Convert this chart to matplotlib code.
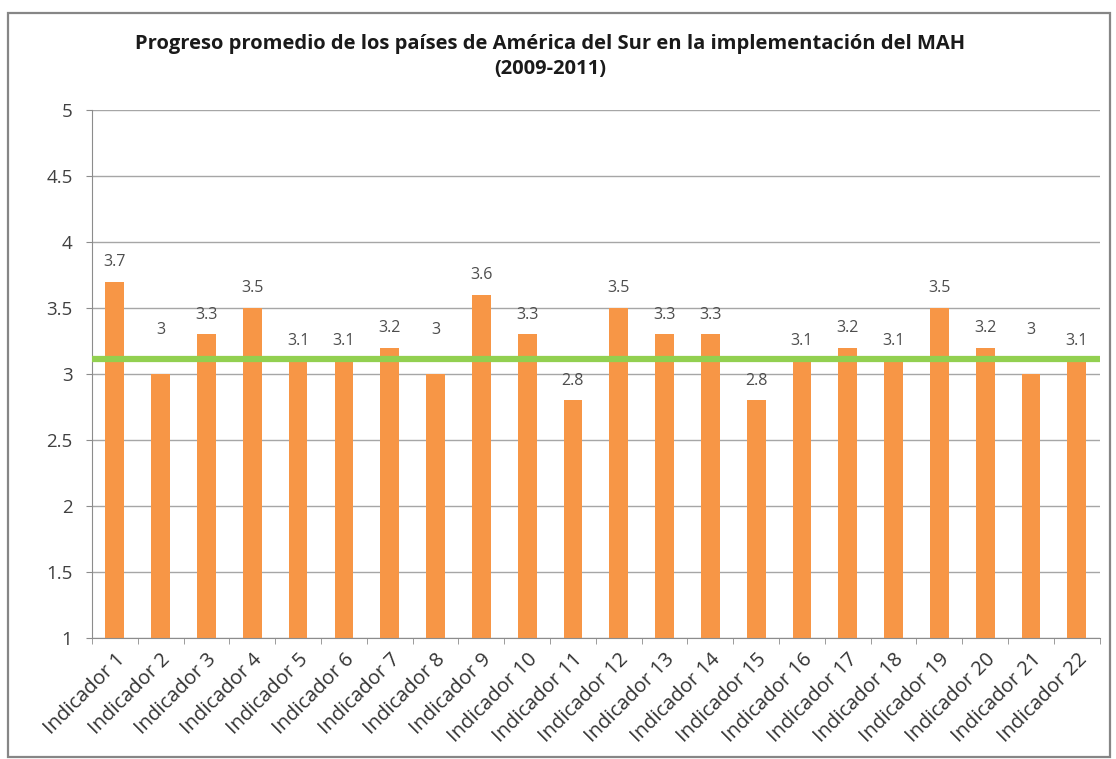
import matplotlib

matplotlib.use("Agg")
import matplotlib.pyplot as plt
import numpy as np
from matplotlib.patches import Rectangle

categories = [f"Indicador {i}" for i in range(1, 23)]
values = [3.7, 3.0, 3.3, 3.5, 3.1, 3.1, 3.2, 3.0, 3.6, 3.3, 2.8,
          3.5, 3.3, 3.3, 2.8, 3.1, 3.2, 3.1, 3.5, 3.2, 3.0, 3.1]
reference_level = 3.11
y_ticks = [1, 1.5, 2, 2.5, 3, 3.5, 4, 4.5, 5]
y_tick_labels = ["1", "1.5", "2", "2.5", "3", "3.5", "4", "4.5", "5"]

plt.rcParams["font.family"] = ["Open Sans", "DejaVu Sans"]

fig = plt.figure(figsize=(11.16, 7.59), dpi=100)
fig.patch.set_facecolor("white")
fig.add_artist(Rectangle((0.007, 0.003), 0.988, 0.98, transform=fig.transFigure,
                         fill=False, edgecolor="#868686", linewidth=1.6))

ax = fig.add_axes([0.0824, 0.1594, 0.903, 0.6957])
x = np.arange(len(categories))
ax.bar(x, values, width=0.41, color="#F79646", zorder=2)

# labels that would sit on the green line are lifted above it
for xi, v in zip(x, values):
    ly = v + 0.15
    if abs(ly - reference_level) < 0.1:
        ly = reference_level + 0.22
    ax.text(xi, ly, f"{v:g}", ha="center", va="center",
            fontsize=11.5, color="#4d4d4d")
ax.axhline(reference_level, color="#92D050", linewidth=4.5, zorder=3)

ax.set_xlim(-0.5, len(categories) - 0.5)
ax.set_ylim(1, 5)
ax.set_yticks(y_ticks)
ax.set_yticklabels(y_tick_labels, fontsize=13.5, color="#404040")
ax.set_xticks(x)
ax.set_xticklabels(categories, rotation=45, ha="right", rotation_mode="anchor",
                   fontsize=14.5, color="#333333")
ax.set_xticks(np.arange(len(categories) + 1) - 0.5, minor=True)
ax.tick_params(axis="x", which="major", length=0, pad=8)
ax.tick_params(axis="x", which="minor", length=4, color="#8c8c8c")
ax.tick_params(axis="y", length=4, color="#8c8c8c", pad=10)
ax.yaxis.grid(True, color="#a6a6a6", linewidth=1)
ax.set_axisbelow(True)
for side in ("top", "right"):
    ax.spines[side].set_visible(False)
ax.spines["left"].set_color("#8c8c8c")
ax.spines["bottom"].set_color("#8c8c8c")

fig.text(0.493, 0.926, "Progreso promedio de los países de América del Sur en la implementación del MAH\n(2009-2011)",
         ha="center", va="center", fontsize=14.5, fontweight="bold", color="#1a1a1a", linespacing=1.35)

fig.savefig("out.png", dpi=100, facecolor="white")
